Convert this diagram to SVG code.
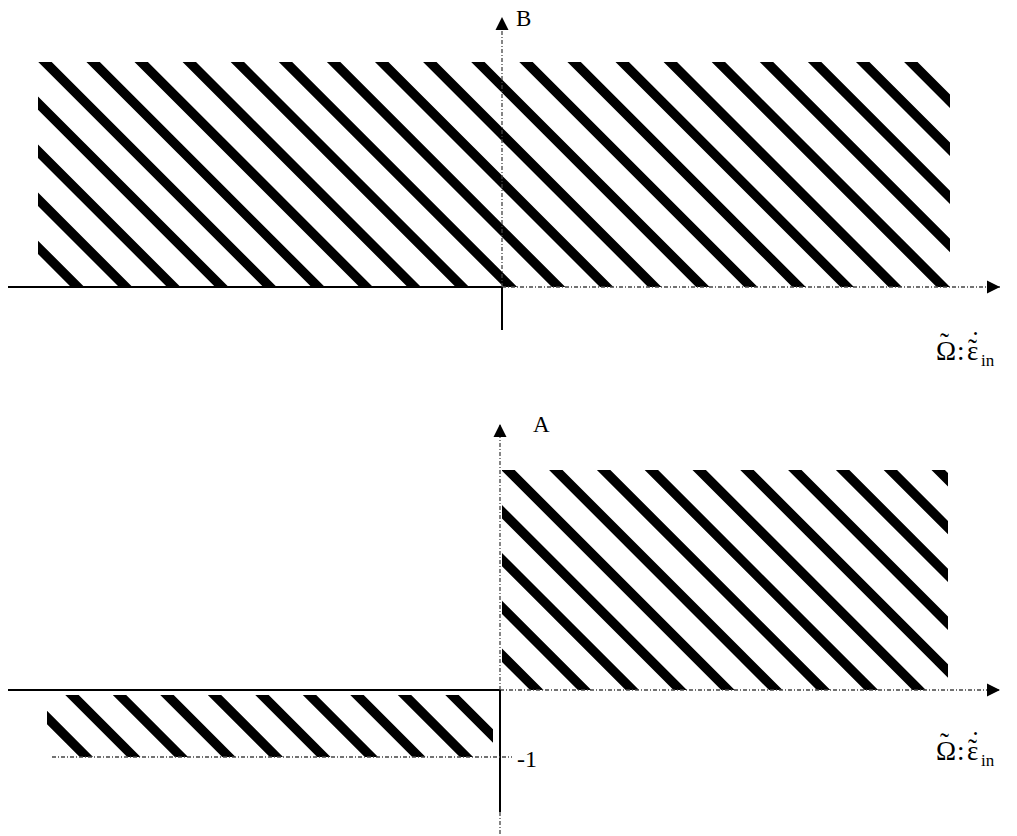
<svg xmlns="http://www.w3.org/2000/svg" width="1017" height="836" viewBox="0 0 1017 836">
<style>
.hatch{fill:none;stroke:#000;stroke-width:9.5;stroke-linecap:butt}
.ax{fill:none;stroke:#000;stroke-width:2}
.axd{fill:none;stroke:#444;stroke-width:1.3;stroke-dasharray:4 2 1 2}
.lbl{font-family:"Liberation Serif","DejaVu Serif",serif;fill:#000}
.big{font-size:27px}
.sub{font-size:17px}
</style>
<defs>
<marker id="arr" markerUnits="userSpaceOnUse" markerWidth="14" markerHeight="14" viewBox="0 0 14 14" refX="13" refY="7" orient="auto">
<path d="M0,0.5 L13,7 L0,13.5 Z" fill="#000"/>
</marker>
<clipPath id="cTop"><rect x="38" y="62" width="912" height="225"/></clipPath>
<clipPath id="cBR"><rect x="502" y="470" width="446" height="220"/></clipPath>
<clipPath id="cBL"><rect x="47" y="695" width="446" height="62"/></clipPath>
</defs>

<g id="top-region" clip-path="url(#cTop)">
<path class="hatch" d="M-217.5,40 L52.5,310 M-169.4,40 L100.6,310 M-121.3,40 L148.7,310 M-73.2,40 L196.8,310 M-25.1,40 L244.9,310 M23,40 L293,310 M71.1,40 L341.1,310 M119.2,40 L389.2,310 M167.3,40 L437.3,310 M215.4,40 L485.4,310 M263.5,40 L533.5,310 M311.6,40 L581.6,310 M359.7,40 L629.7,310 M407.8,40 L677.8,310 M455.9,40 L725.9,310 M504,40 L774,310 M552.1,40 L822.1,310 M600.2,40 L870.2,310 M648.3,40 L918.3,310 M696.4,40 L966.4,310 M744.5,40 L1014.5,310 M792.6,40 L1062.6,310 M840.7,40 L1110.7,310 M888.8,40 L1158.8,310"/>
</g>

<g id="bottom-right-region" clip-path="url(#cBR)">
<path class="hatch" d="M296.8,450 L546.8,700 M344.6,450 L594.6,700 M392.4,450 L642.4,700 M440.2,450 L690.2,700 M488,450 L738,700 M535.8,450 L785.8,700 M583.6,450 L833.6,700 M631.4,450 L881.4,700 M679.2,450 L929.2,700 M727,450 L977,700 M774.8,450 L1024.8,700 M822.6,450 L1072.6,700 M870.4,450 L1120.4,700 M918.2,450 L1168.2,700"/>
</g>

<g id="bottom-left-region" clip-path="url(#cBL)">
<path class="hatch" d="M19.5,690 L89.5,760 M67,690 L137,760 M114.5,690 L184.5,760 M162,690 L232,760 M209.5,690 L279.5,760 M257,690 L327,760 M304.5,690 L374.5,760 M352,690 L422,760 M399.5,690 L469.5,760 M447,690 L517,760"/>
</g>

<g id="connectors">
<line class="ax" x1="8" y1="287" x2="502" y2="287"/>
<line class="axd" x1="502" y1="287" x2="1000" y2="287" marker-end="url(#arr)"/>
<line class="axd" x1="502" y1="287" x2="502" y2="17" marker-end="url(#arr)"/>
<line class="ax" x1="502" y1="287" x2="502" y2="330" stroke-width="1.3"/>

<line class="ax" x1="8" y1="690" x2="500" y2="690"/>
<line class="axd" x1="500" y1="690" x2="1000" y2="690" marker-end="url(#arr)"/>
<line class="axd" x1="500" y1="690" x2="500" y2="424" marker-end="url(#arr)"/>
<line class="ax" x1="500" y1="690" x2="500" y2="812" stroke-width="1.8"/>
<line class="axd" x1="500" y1="812" x2="500" y2="834"/>
<line class="axd" x1="52" y1="757" x2="512" y2="757" stroke-dasharray="6 3"/>
</g>

<g id="labels">
<text class="lbl" x="516" y="26" font-size="23">B</text>
<text class="lbl" x="533" y="432" font-size="23">A</text>
<text class="lbl" x="517" y="767" font-size="24">-1</text>
</g>

<g id="label-top-x">
<text class="lbl big"><tspan x="936" y="360">Ω</tspan><tspan x="940" y="352">˜</tspan><tspan x="957" y="360">:</tspan><tspan x="967" y="360">ε</tspan><tspan x="968" y="358">˜</tspan><tspan x="971" y="350">˙</tspan><tspan class="sub" x="981" y="366">in</tspan></text>
</g>
<g id="label-bottom-x">
<text class="lbl big"><tspan x="936" y="760">Ω</tspan><tspan x="940" y="752">˜</tspan><tspan x="957" y="760">:</tspan><tspan x="967" y="760">ε</tspan><tspan x="968" y="758">˜</tspan><tspan x="971" y="750">˙</tspan><tspan class="sub" x="981" y="766">in</tspan></text>
</g>
</svg>
